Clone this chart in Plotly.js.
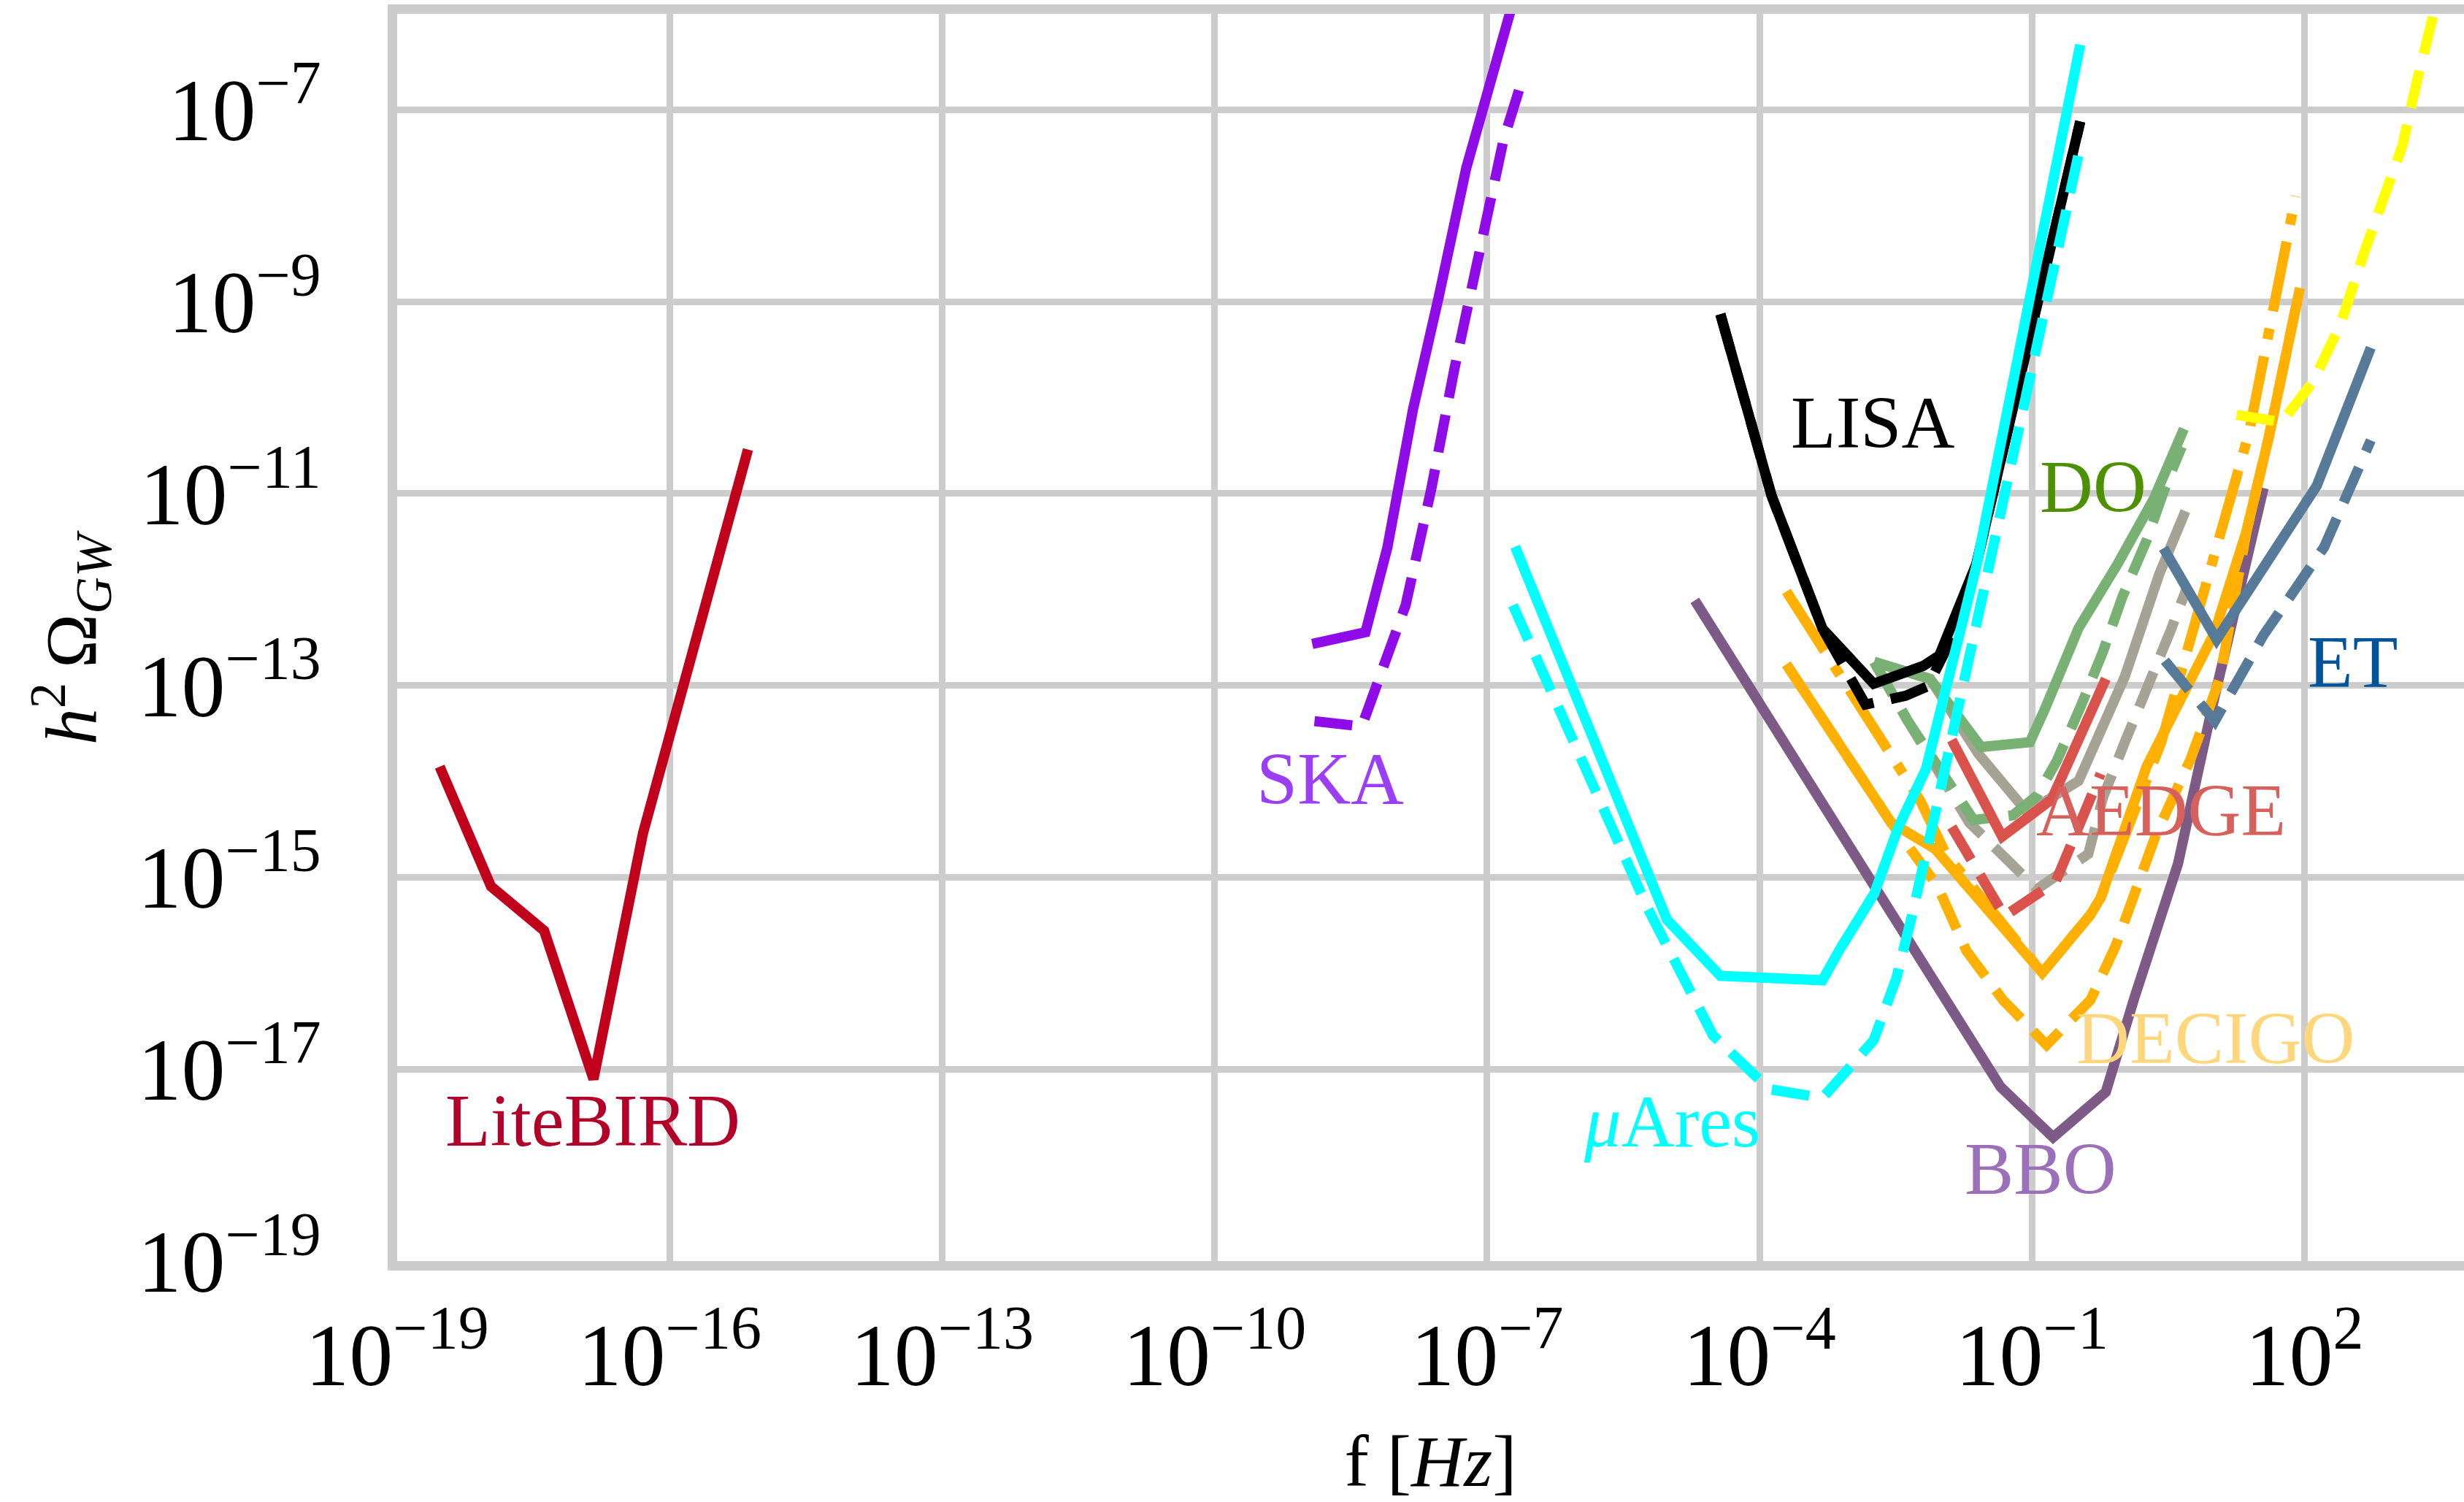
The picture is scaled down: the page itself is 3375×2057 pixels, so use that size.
<!DOCTYPE html>
<html><head><meta charset="utf-8">
<script src="https://cdn.plot.ly/plotly-3.0.1.min.js"></script>
<style>html,body{margin:0;padding:0;background:#fff;} #chart{width:3375px;height:2057px;}</style>
</head><body><div id="chart"></div>
<script>
// ---- data (frequency f [Hz], h^2 Omega_GW) ----
const fLiteBIRD = [2.94e-19, 1.08e-18, 4.15e-18, 1.45e-17, 5.09e-17, 7.29e-16];
const hLiteBIRD = [1.42e-14, 8.04e-16, 2.78e-16, 7.87e-18, 2.88e-15, 2.88e-11];

const fSKA = [1.19e-9, 4.59e-9, 8.00e-9, 1.53e-8, 2.92e-8, 5.90e-8, 2.04e-7];
const hSKA = [2.71e-13, 3.59e-13, 2.74e-12, 7.50e-11, 1.09e-9, 2.46e-8, 1.59e-6];
const fSKAd = [1.26e-9, 4.18e-9, 1.27e-8, 2.43e-8, 4.39e-8, 7.93e-8, 1.52e-7, 2.45e-7];
const hSKAd = [4.24e-14, 3.74e-14, 6.85e-13, 1.11e-11, 2.03e-10, 3.11e-9, 4.86e-8, 2.08e-7];

const fLISA = [3.71e-5, 1.36e-4, 4.94e-4, 1.81e-3, 6.37e-3, 9.55e-3, 2.45e-2, 3.40e-1];
const hLISA = [7.41e-10, 9.46e-12, 3.91e-13, 1.04e-13, 1.60e-13, 2.05e-13, 1.86e-12, 7.55e-8];
const fLISAd = [3.71e-5, 1.36e-4, 4.94e-4, 1.47e-3, 4.07e-3, 7.11e-3, 1.13e-2, 2.45e-2, 3.40e-1];
const hLISAd = [7.41e-10, 9.46e-12, 3.91e-13, 6.32e-14, 7.80e-14, 9.79e-14, 2.35e-13, 1.86e-12, 7.55e-8];

const fMuAres = [2.04e-7, 1.26e-6, 9.59e-6, 3.71e-5, 4.94e-4, 7.71e-4, 1.84e-3, 3.39e-3, 6.84e-3, 2.45e-2, 3.40e-1];
const hMuAres = [2.79e-12, 3.98e-14, 3.61e-16, 9.38e-17, 8.45e-17, 1.79e-16, 6.79e-16, 3.34e-15, 1.36e-14, 1.77e-12, 4.75e-7];
const fMuAresd = [1.93e-7, 5.93e-6, 3.08e-5, 1.28e-4, 4.94e-4, 1.81e-3, 3.21e-3, 4.65e-3, 9.04e-3, 4.53e-2, 1.40e-1, 2.63e-1, 3.40e-1];
const hMuAresd = [6.85e-13, 4.67e-16, 2.25e-17, 6.18e-18, 5.01e-18, 2.00e-17, 8.85e-17, 3.59e-16, 5.71e-15, 6.30e-12, 9.57e-10, 1.26e-8, 4.14e-8];

const fBBO = [1.94e-5, 4.52e-2, 1.71e-1, 6.50e-1, 1.34, 4.06, 9.70, 21.5, 35.5];
const hBBO = [7.69e-13, 6.52e-18, 1.95e-18, 5.77e-18, 5.52e-17, 1.39e-15, 6.08e-14, 1.42e-12, 1.14e-11];

const fDECIGO = [1.98e-4, 2.81e-3, 8.55e-3, 1.30e-1, 4.41e-1, 5.71e-1, 1.83, 10.2, 23.1, 40.3, 89.3];
const hDECIGO = [1.66e-13, 3.72e-15, 1.98e-15, 1.01e-16, 4.08e-16, 6.11e-16, 1.43e-14, 3.52e-13, 4.09e-12, 3.78e-11, 1.39e-9];
const fDECIGOd = [1.98e-4, 2.81e-3, 9.04e-3, 1.90e-2, 4.79e-2, 1.45e-1, 4.41e-1, 8.28e-1, 2.33, 5.57, 11.7, 20.0, 23.1, 40.3, 89.3];
const hDECIGOd = [1.66e-13, 3.72e-15, 8.24e-16, 1.71e-16, 5.27e-17, 1.79e-17, 5.27e-17, 1.89e-16, 2.81e-15, 1.70e-14, 1.17e-13, 1.78e-12, 4.09e-12, 3.78e-11, 1.39e-9];
const fDECIGOdd = [1.98e-4, 2.81e-3, 5.90e-3, 1.13e-2, 1.30e-1, 4.41e-1, 5.71e-1, 2.65, 4.71, 10.8, 24.5, 80.0];
const hDECIGOdd = [9.55e-13, 2.03e-14, 6.28e-15, 1.75e-15, 1.01e-16, 4.08e-16, 6.11e-16, 2.55e-14, 1.78e-13, 2.93e-12, 4.27e-11, 1.26e-8];

const fGray = [1.83e-3, 7.55e-3, 2.59e-2, 8.91e-2, 3.26e-1, 1.05, 2.51, 4.89];
const hGray = [1.76e-13, 1.17e-13, 1.92e-14, 4.74e-15, 1.01e-14, 1.23e-13, 1.43e-12, 6.56e-12];
const fGrayd = [1.83e-3, 4.26e-3, 2.04e-2, 4.28e-2, 1.14e-1, 4.17e-1, 6.04e-1, 1.05, 1.94, 3.38, 5.08];
const hGrayd = [1.76e-13, 4.32e-14, 3.72e-15, 1.85e-15, 7.55e-16, 1.75e-15, 6.75e-15, 2.55e-14, 9.82e-14, 3.78e-13, 1.04e-12];

const fDO = [1.83e-3, 7.55e-3, 2.76e-2, 9.48e-2, 1.37e-1, 3.27e-1, 8.73e-1, 2.20, 4.71];
const hDO = [1.76e-13, 1.17e-13, 2.28e-14, 2.56e-14, 5.51e-14, 3.98e-13, 1.83e-12, 8.83e-12, 4.74e-11];
const fDOd = [1.83e-3, 4.26e-3, 2.28e-2, 6.18e-2, 1.14e-1, 1.87e-1, 3.46e-1, 6.04e-1, 9.95e-1, 1.83, 3.02, 4.46];
const hDOd = [1.76e-13, 4.32e-14, 3.96e-15, 4.43e-15, 7.11e-15, 1.62e-14, 6.12e-14, 2.24e-13, 8.47e-13, 3.26e-12, 1.26e-11, 3.07e-11];

const fAEDGE = [1.31e-2, 4.70e-2, 1.65e-1, 6.50e-1];
const hAEDGE = [2.69e-14, 2.66e-15, 6.50e-15, 1.17e-13];
const fAEDGEd = [1.31e-2, 4.97e-2, 1.82e-1, 5.71e-1];
const hAEDGEd = [3.34e-15, 3.94e-16, 8.97e-16, 1.20e-14];

const fET = [2.81, 10.8, 137, 538];
const hET = [2.69e-12, 3.01e-13, 1.21e-11, 3.31e-10];
const fETd = [2.91, 10.3, 35.4, 164, 538];
const hETd = [1.81e-13, 4.24e-14, 3.34e-13, 2.74e-12, 3.59e-11];

const fCE = [17.9, 56.2, 122.5, 247.7, 447.7, 751.6, 1194, 1730, 2748];
const hCE = [6.61e-11, 5.55e-11, 1.43e-10, 5.70e-10, 3.12e-9, 1.33e-8, 4.16e-8, 1.98e-7, 1.16e-6];

// ---- styling ----
const SERIF = 'Liberation Serif, serif';
const LW = 14;
const DASH = '52px,24px';
const DASHDOT = '97px,24px,15px,24px';
function line(x, y, color, dash) {
  return {x: x, y: y, type: 'scatter', mode: 'lines',
    line: {color: color, width: LW, dash: dash || 'solid'},
    hoverinfo: 'skip', showlegend: false};
}
const C = {lite: '#c1001b', ska: '#8f0ce8', bbo: '#7e5a87', dec: '#ffb000', gray: '#a7a394',
  green: '#79b074', red: '#d9534c', black: '#000000', cyan: '#00ffff', et: '#577a99', yel: '#ffff00'};

const data = [
  line(fLiteBIRD, hLiteBIRD, C.lite),
  line(fSKAd, hSKAd, C.ska, DASH),
  line(fSKA, hSKA, C.ska),
  line(fBBO, hBBO, C.bbo),
  line(fDECIGOd, hDECIGOd, C.dec, DASH),
  line(fDECIGOdd, hDECIGOdd, C.dec, DASHDOT),
  line(fDECIGO, hDECIGO, C.dec),
  line(fGrayd, hGrayd, C.gray, DASH),
  line(fGray, hGray, C.gray),
  line(fDOd, hDOd, C.green, DASH),
  line(fDO, hDO, C.green),
  line(fAEDGEd, hAEDGEd, C.red, DASH),
  line(fAEDGE, hAEDGE, C.red),
  line(fLISAd, hLISAd, C.black, DASH),
  line(fLISA, hLISA, C.black),
  line(fMuAresd, hMuAresd, C.cyan, DASH),
  line(fMuAres, hMuAres, C.cyan),
  line(fETd, hETd, C.et, DASH),
  line(fET, hET, C.et),
  line(fCE, hCE, C.yel, DASH)
];

function lab(text, x, y, color) {
  return {text: text, x: x, y: y, xref: 'x', yref: 'y', showarrow: false,
    xanchor: 'center', yanchor: 'middle', font: {family: SERIF, size: 101, color: color}};
}
const annotations = [
  lab('LiteBIRD', -16.843, -17.541, '#b20028'),
  lab('SKA', -8.724, -13.974, '#9a3ff6'),
  lab('LISA', -2.752, -10.263, '#000000'),
  lab('DO', -0.324, -10.932, '#4d9000'),
  lab('ET', 2.530, -12.757, '#01539a'),
  lab('AEDGE', 0.424, -14.301, '#d6605c'),
  lab('DECIGO', 1.027, -16.681, '#fed67c'),
  lab('BBO', -0.903, -18.043, '#9b70b8'),
  lab('<i>μ</i>Ares', -4.962, -17.548, '#00ffff'),
  // y-axis title, placed as a rotated annotation for exact positioning
  {text: '<i>h</i><sup>2</sup>\u2009Ω<sub><i>GW</i></sub>', xref: 'paper', yref: 'paper',
   x: -0.1579, y: 0.5, xanchor: 'center', yanchor: 'middle', textangle: -90, showarrow: false,
   font: {family: SERIF, size: 100, color: '#000000'}}
];

const axisCommon = {
  type: 'log', exponentformat: 'power', showexponent: 'all',
  showgrid: true, gridcolor: '#cccccc', gridwidth: 9,
  showline: true, linecolor: '#cccccc', linewidth: 13,
  zeroline: false, ticks: '', automargin: false,
  tickfont: {family: SERIF, size: 96, color: '#000000'}
};

const layout = {
  width: 3375, height: 2057,
  margin: {l: 544, r: 0, t: 19, b: 330, pad: 0},
  paper_bgcolor: '#ffffff', plot_bgcolor: '#ffffff',
  showlegend: false,
  font: {family: SERIF, color: '#000000'},
  xaxis: Object.assign({}, axisCommon, {
    range: [-19, 3.757], dtick: 3, tick0: -19, mirror: true,
    ticklabelstandoff: 18,
    title: {text: 'f [<i>Hz</i>]', font: {family: SERIF, size: 100, color: '#000000'}, standoff: 84}
  }),
  yaxis: Object.assign({}, axisCommon, {
    range: [-19, -6], dtick: 2, tick0: -19, mirror: false,
    ticklabelstandoff: 72
  }),
  annotations: annotations
};

Plotly.newPlot('chart', data, layout, {staticPlot: true, displayModeBar: false});
</script>
</body></html>
